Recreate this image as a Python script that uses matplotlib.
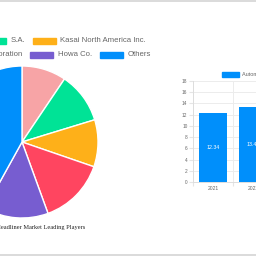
import matplotlib.pyplot as plt
from matplotlib.patches import Rectangle

# Quote dei principali attori (in gradi di torta)
players = ["Grupo Antolin-Irausa", "S.A.", "Kasai North America Inc.",
           "Toyota Boshoku Corporation", "Howa Co.", "Others"]
shares = [34, 39, 36, 51, 49, 151]
colors = ["#F7A4A6", "#00E396", "#FEB019", "#FF4560", "#775DD0", "#008FFB"]

years = ["2021", "2022"]
market_size = [12.34, 13.45]
bar_color = "#008FFB"
bar_label = "Automotive Headliner Market Size"

W = H = 256
fig = plt.figure(figsize=(2.56, 2.56), dpi=100)
fig.patch.set_facecolor("white")


def box(l, t, w, h):
    # pixel (dall'alto) -> frazione della figura
    return [l / W, 1 - (t + h) / H, w / W, h / H]


def px(x, y):
    return x / W, 1 - y / H


SANS = "Liberation Sans"
GREY = "#666666"

# bordi grigi della pagina
fig.add_artist(plt.Line2D([0, 1], [1 - 0.5 / H, 1 - 0.5 / H], color="#d4d4d4", lw=1.2))
fig.add_artist(plt.Line2D([0, 1], [1 - 255 / H, 1 - 255 / H], color="#d4d4d4", lw=1.2))

# --- Torta ---
cx, cy, r = 22, 142, 76
ax_pie = fig.add_axes(box(cx - r, cy - r, 2 * r, 2 * r))
ax_pie.pie(shares, colors=colors, startangle=90, counterclock=False,
           wedgeprops=dict(edgecolor="white", linewidth=1.0), radius=1)
ax_pie.set_xlim(-1, 1)
ax_pie.set_ylim(-1, 1)
ax_pie.set_aspect("equal")
ax_pie.axis("off")

# legenda manuale: (x del riquadro, riga) in pixel; gli elementi fuori tela restano tagliati
legend_pos = [(-110, 41), (-17, 41), (33, 41), (-104, 55), (30, 55), (100, 55)]
for name, col, (bx, by) in zip(players, colors, legend_pos):
    fig.add_artist(Rectangle(px(bx, by + 3), 23 / W, 6 / H, color=col, transform=fig.transFigure))
    fig.text(*px(bx + 27.5, by), name, fontsize=5.6, color=GREY, family=SANS,
             ha="left", va="center")

fig.text(*px(85, 227), "Automotive Headliner Market Leading Players", fontsize=4.6,
         family="Liberation Serif", color="#222222", ha="right", va="center")

# --- Barre ---
ax = fig.add_axes(box(193, 81, 80, 101))
xs = range(len(years))
bars = ax.bar(xs, market_size, width=0.72, color=bar_color, zorder=3)
for b, v in zip(bars, market_size):
    ax.text(b.get_x() + b.get_width() / 2, v / 2, f"{v:.2f}", color="white",
            fontsize=3.8, family=SANS, ha="center", va="center", zorder=4)
ax.set_xlim(-0.5, 1.5)
ax.set_ylim(0, 18)
ax.set_yticks(range(0, 19, 2))
ax.set_xticks([-0.5, 0.5, 1.5], minor=False)
ax.set_xticklabels([])
ax.set_xticks(list(xs), minor=True)
ax.set_xticklabels(years, minor=True)
ax.tick_params(axis="x", which="minor", length=0, pad=3, labelsize=3.6, labelcolor=GREY)
ax.tick_params(axis="x", which="major", length=3, color="#e5e5e5")
ax.tick_params(axis="y", length=3, color="#e5e5e5", pad=1, labelsize=3.4, labelcolor=GREY)
for lab in ax.get_yticklabels() + ax.get_xticklabels(minor=True):
    lab.set_family(SANS)
ax.grid(True, which="major", color="#ececec", lw=0.7, zorder=0)
for s in ["top", "right"]:
    ax.spines[s].set_visible(False)
for s in ["left", "bottom"]:
    ax.spines[s].set_color("#dddddd")
    ax.spines[s].set_linewidth(0.7)

fig.add_artist(Rectangle(px(222, 77), 17 / W, 5 / H, color=bar_color, transform=fig.transFigure))
fig.text(*px(242, 74.5), bar_label, fontsize=4.0, color=GREY, family=SANS,
         ha="left", va="center")

fig.savefig("out.png", dpi=100)
